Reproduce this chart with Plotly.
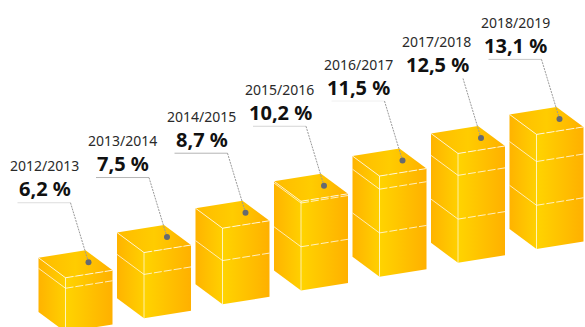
import plotly.graph_objects as go

# Share of each school year, one stacked box per year
years = ["2012/2013", "2013/2014", "2014/2015", "2015/2016", "2016/2017", "2017/2018", "2018/2019"]
values = [6.2, 7.5, 8.7, 10.2, 11.5, 12.5, 13.1]
value_labels = ["6,2 %", "7,5 %", "8,7 %", "10,2 %", "11,5 %", "12,5 %", "13,1 %"]
rule_colors = ["#dddddd", "#b5b5b5", "#b5b5b5", "#d5d5d5", "#f0f0f0", "#ffffff", "#c8c8c8"]

# Projection of the boxes, in px and axis units
W, H = 585, 327
PX_PER_UNIT = 8.75
FIRST_FRONT_X = 65.5
STEP_X = 78.5
STEP_RISE = 13.83 / PX_PER_UNIT
LEFT_DX, LEFT_DY = -27.0, 20.0 / PX_PER_UNIT
RIGHT_DX, RIGHT_DY = 47.0, 7.5 / PX_PER_UNIT
SEGMENT = 5
Y_BOTTOM = 0.571
Y_TOP = Y_BOTTOM + H / PX_PER_UNIT

LEFT_FACE = [[0, "#ffb300"], [1, "#ffd000"]]
RIGHT_FACE = [[0, "#ffd400"], [1, "#ffb000"]]
TOP_FACE = [[0, "#ffbb00"], [0.5, "#ffcc00"], [1, "#ffb000"]]

fig = go.Figure()


def face(xs, ys, scale):
    fig.add_trace(go.Scatter(
        x=xs + xs[:1], y=ys + ys[:1], mode="lines", line=dict(width=0),
        fill="toself", fillgradient=dict(type="horizontal", colorscale=scale),
        hoverinfo="skip", showlegend=False,
    ))


def stroke(xs, ys, color="#ffffff", width=1.0, dash="solid"):
    fig.add_trace(go.Scatter(
        x=xs, y=ys, mode="lines", line=dict(color=color, width=width, dash=dash),
        hoverinfo="skip", showlegend=False,
    ))


for i, (year, value, text, rule) in enumerate(zip(years, values, value_labels, rule_colors)):
    fx = FIRST_FRONT_X + i * STEP_X
    base = i * STEP_RISE
    top = base + value
    lx, rx = fx + LEFT_DX, fx + RIGHT_DX
    bx = fx + LEFT_DX + RIGHT_DX

    face([lx, fx, fx, lx], [base + LEFT_DY, base, top, top + LEFT_DY], LEFT_FACE)
    face([fx, rx, rx, fx], [base, base + RIGHT_DY, top + RIGHT_DY, top], RIGHT_FACE)
    face([lx, fx, rx, bx],
         [top + LEFT_DY, top, top + RIGHT_DY, top + LEFT_DY + RIGHT_DY], TOP_FACE)

    # Seams every five units, plus the box's upper edges
    level = SEGMENT
    while level < value:
        y = base + level
        stroke([lx, fx], [y + LEFT_DY, y], "rgba(255,255,255,0.7)")
        stroke([fx, rx], [y, y + RIGHT_DY], "rgba(255,255,255,0.75)", 1.0, "8px,2px")
        level += SEGMENT
    stroke([lx, fx], [top + LEFT_DY, top], "rgba(255,255,255,0.7)")
    stroke([fx, rx], [top, top + RIGHT_DY], "rgba(255,255,255,0.8)", 1.0, "8px,2px")
    stroke([fx, fx], [base, top], "rgba(255,255,255,0.65)")

    # Leader from the label to the dot on the box top
    dot_x = fx + 23
    dot_y = top + 15.5 / PX_PER_UNIT
    rule_y = dot_y + 59.5 / PX_PER_UNIT
    stroke([dot_x - 71, dot_x - 18], [rule_y, rule_y], rule, 1.0)
    stroke([dot_x - 18, dot_x], [rule_y, dot_y], "#9a9a9a", 1.0, "2px,1px")
    fig.add_trace(go.Scatter(
        x=[dot_x], y=[dot_y], mode="markers",
        marker=dict(size=6, color="#666a70", line=dict(width=0)),
        hoverinfo="skip", showlegend=False,
    ))

    fig.add_annotation(x=dot_x - 44.5, y=dot_y + 96.5 / PX_PER_UNIT, text=year, showarrow=False,
                       font=dict(family="Noto Sans", size=14, color="#2a2a2a"))
    fig.add_annotation(x=dot_x - 44, y=dot_y + 73.5 / PX_PER_UNIT, text=f"<b>{text}</b>", showarrow=False,
                       font=dict(family="Noto Sans", size=20, color="#111111"))

fig.update_layout(
    width=W, height=H, margin=dict(l=0, r=0, t=0, b=0),
    paper_bgcolor="#ffffff", plot_bgcolor="#ffffff", showlegend=False,
    xaxis=dict(range=[0, W], visible=False, fixedrange=True),
    yaxis=dict(range=[Y_BOTTOM, Y_TOP], visible=False, fixedrange=True),
)

fig.write_html("out.html", config=dict(displayModeBar=False))
